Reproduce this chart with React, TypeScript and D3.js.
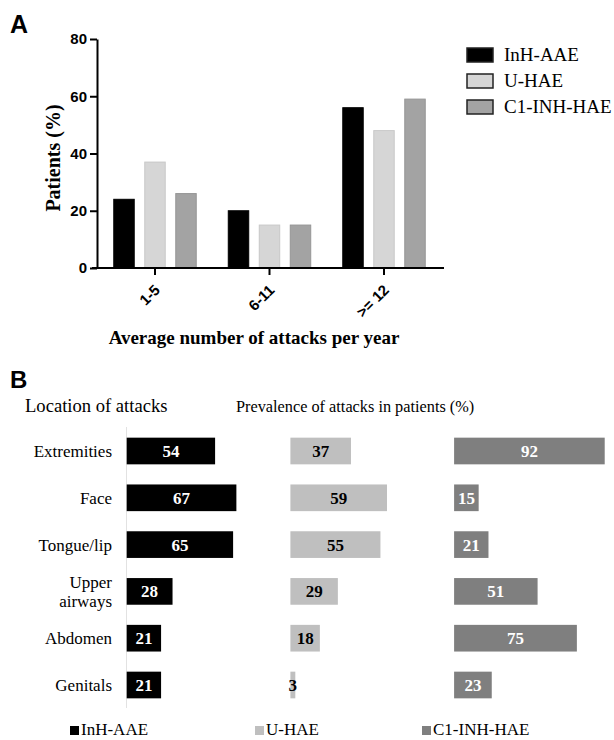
import * as React from 'react';
import { useEffect, useRef } from 'react';
import * as d3 from 'd3';

// panel A: attack frequency
const freqCategories = ['1-5', '6-11', '>= 12'];
const seriesNames = ['InH-AAE', 'U-HAE', 'C1-INH-HAE'];
const freqInhAae = [24, 20, 56];
const freqUHae = [37, 15, 48];
const freqC1Inh = [26, 15, 59];
const freqTicks = [0, 20, 40, 60, 80];

// panel B: location of attacks
const locations = ['Extremities', 'Face', 'Tongue/lip', 'Upper airways', 'Abdomen', 'Genitals'];
const locInhAae = [54, 67, 65, 28, 21, 21];
const locUHae = [37, 59, 55, 29, 18, 3];
const locC1Inh = [92, 15, 21, 51, 75, 23];

const colorsA = ['#000000', '#d6d6d6', '#a3a3a3'];
const strokesA = ['#000000', '#c8c8c8', '#959595'];
const colorsB = ['#000000', '#bfbfbf', '#7f7f7f'];
const labelColorsB = ['#ffffff', '#000000', '#ffffff'];

const SANS = '"Liberation Sans", Arial, sans-serif';
const SERIF = '"Liberation Serif", "Times New Roman", serif';

export default function App() {
  const yAxisRef = useRef<SVGGElement>(null);

  const x = d3.scaleBand<string>().domain(freqCategories).range([97.75, 441.25]);
  const xInner = d3.scaleBand<string>().domain(seriesNames).range([-46.5, 46.5]).paddingInner(0.34).paddingOuter(0.17);
  const y = d3.scaleLinear().domain([0, 80]).range([268, 39]);
  const freqSeries = [freqInhAae, freqUHae, freqC1Inh];

  const rowY = d3.scaleBand<string>().domain(locations).range([427.6, 708.4]).paddingInner(0.43).paddingOuter(0.215);
  const colStart = d3.scaleBand<string>().domain(seriesNames).range([126.7, 126.7 + 3 * 163.7]);
  const w = d3.scaleLinear().domain([0, 100]).range([0, 163.7]);
  const locSeries = [locInhAae, locUHae, locC1Inh];

  useEffect(() => {
    const g = d3.select(yAxisRef.current!);
    g.selectAll('*').remove();
    g.call(d3.axisLeft(y).tickValues(freqTicks).tickSize(7).tickSizeOuter(0).tickPadding(3));
    g.select('.domain').attr('stroke', '#000').attr('stroke-width', 2);
    g.selectAll('.tick line').attr('stroke', '#000').attr('stroke-width', 2);
    g.selectAll('.tick text')
      .attr('font-family', SANS)
      .attr('font-weight', 'bold')
      .attr('font-size', 15)
      .attr('fill', '#000');
  }, []);

  return (
    <svg width={614} height={740} style={{ position: 'absolute', left: 0, top: 0, background: '#fff' }}>
      <rect width={614} height={740} fill="#fff" />
      {/* Panel A */}
      <text x={10} y={33} fontFamily={SANS} fontWeight="bold" fontSize={25}>A</text>

      {freqCategories.map((c, ci) =>
        freqSeries.map((s, si) => (
          <rect
            key={c + si}
            x={x(c)! + x.bandwidth() / 2 + xInner(seriesNames[si])!}
            y={y(s[ci])}
            width={xInner.bandwidth()}
            height={y(0) - y(s[ci])}
            fill={colorsA[si]}
            stroke={strokesA[si]}
            strokeWidth={1}
          />
        ))
      )}

      <g ref={yAxisRef} transform="translate(97,0)" />
      <line x1={92} x2={444} y1={268} y2={268} stroke="#000" strokeWidth={2} />
      {freqCategories.map((c) => {
        const cx = x(c)! + x.bandwidth() / 2;
        return (
          <g key={c}>
            <line x1={cx} x2={cx} y1={268} y2={275} stroke="#000" strokeWidth={2} />
            <text
              transform={`translate(${cx + 6},${291}) rotate(-45)`}
              textAnchor="end"
              fontFamily={SANS}
              fontWeight="bold"
              fontSize={15}
            >
              {c}
            </text>
          </g>
        );
      })}

      <text
        transform="translate(60,158) rotate(-90)"
        textAnchor="middle"
        fontFamily={SERIF}
        fontWeight="bold"
        fontSize={20}
      >
        Patients (%)
      </text>
      <text x={254} y={344} textAnchor="middle" fontFamily={SERIF} fontWeight="bold" fontSize={19}>
        Average number of attacks per year
      </text>

      {seriesNames.map((n, i) => (
        <g key={n} transform={`translate(467,${48 + i * 26})`}>
          <rect width={26} height={14} fill={colorsA[i]} stroke="#222" strokeWidth={1.5} />
          <text x={37} y={13} fontFamily={SERIF} fontSize={19}>{n}</text>
        </g>
      ))}

      {/* Panel B */}
      <text x={10} y={388} fontFamily={SANS} fontWeight="bold" fontSize={24}>B</text>
      <text x={25} y={412} fontFamily={SERIF} fontSize={18.6}>Location of attacks</text>
      <text x={236} y={412} fontFamily={SERIF} fontSize={16.3}>Prevalence of attacks in patients (%)</text>
      <line x1={126.5} x2={126.5} y1={427} y2={708} stroke="#e2e2e2" strokeWidth={1} />

      {locations.map((loc, li) => {
        const top = rowY(loc)!;
        const cy = top + rowY.bandwidth() / 2;
        const words = loc === 'Upper airways' ? ['Upper', 'airways'] : [loc];
        return (
          <g key={loc}>
            {words.length === 1 ? (
              <text x={112} y={cy + 6} textAnchor="end" fontFamily={SERIF} fontSize={17}>{loc}</text>
            ) : (
              <text textAnchor="end" fontFamily={SERIF} fontSize={17}>
                <tspan x={112} y={cy - 3}>{words[0]}</tspan>
                <tspan x={112} y={cy + 16}>{words[1]}</tspan>
              </text>
            )}
            {locSeries.map((s, si) => {
              const x0 = colStart(seriesNames[si])!;
              const bw = w(s[li]);
              return (
                <g key={si}>
                  <rect x={x0} y={top} width={bw} height={rowY.bandwidth()} fill={colorsB[si]} />
                  <text
                    x={x0 + bw / 2}
                    y={cy + 6}
                    textAnchor="middle"
                    fontFamily={SERIF}
                    fontWeight="bold"
                    fontSize={17}
                    fill={labelColorsB[si]}
                  >
                    {s[li]}
                  </text>
                </g>
              );
            })}
          </g>
        );
      })}

      {seriesNames.map((n, i) => {
        const lx = [70, 255, 422][i];
        return (
          <g key={n}>
            <rect x={lx} y={726} width={9} height={9} fill={colorsB[i]} />
            <text x={lx + 11} y={735} fontFamily={SERIF} fontSize={17}>{n}</text>
          </g>
        );
      })}
    </svg>
  );
}
